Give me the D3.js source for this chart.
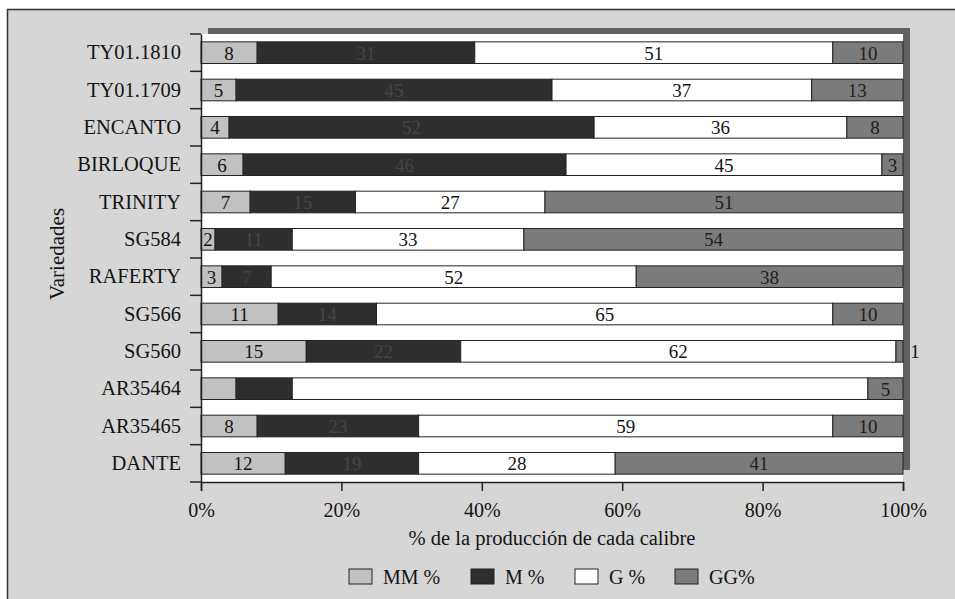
<!DOCTYPE html>
<html>
<head>
<meta charset="utf-8">
<script src="https://cdn.jsdelivr.net/npm/d3@7"></script>
<style>
  body { margin: 0; background: #ffffff; }
  text { font-family: "Liberation Serif", "Times New Roman", serif; }
</style>
</head>
<body>
<div id="vis1"></div>
<script>
// Varieties, top to bottom
const VARIEDADES = ["TY01.1810", "TY01.1709", "ENCANTO", "BIRLOQUE", "TRINITY", "SG584",
                    "RAFERTY", "SG566", "SG560", "AR35464", "AR35465", "DANTE"];

// Series values (% of production by size)
const MM = [8, 5, 4, 6, 7, 2, 3, 11, 15, 5, 8, 12];
const M  = [31, 45, 52, 46, 15, 11, 7, 14, 22, 8, 23, 19];
const G  = [51, 37, 36, 45, 27, 33, 52, 65, 62, 82, 59, 28];
const GG = [10, 13, 8, 3, 51, 54, 38, 10, 1, 5, 10, 41];

const SERIES = ["MM %", "M %", "G %", "GG%"];
const X_TICKS = [0, 20, 40, 60, 80, 100];

// rows whose small segments carry no label in the original
const UNLABELED = {"AR35464": ["MM %", "M %", "G %"]};

const FRAME_WIDTH = 955;
const FRAME_HEIGHT = 599;
const MARGINS = {left: 201, right: 52, top: 34, bottom: 117};
const VIS_WIDTH = FRAME_WIDTH - MARGINS.left - MARGINS.right;
const VIS_HEIGHT = FRAME_HEIGHT - MARGINS.top - MARGINS.bottom;

const COLORS = {"MM %": "#c1c1c1", "M %": "#2e2e2e", "G %": "#ffffff", "GG%": "#7b7b7b"};
const TEXT_COLORS = {"MM %": "#141414", "M %": "#454545", "G %": "#141414", "GG%": "#202020"};

const FRAME1 = d3.select("#vis1")
                 .append("svg")
                 .attr("width", FRAME_WIDTH)
                 .attr("height", FRAME_HEIGHT);

// outer chart area
FRAME1.append("rect")
      .attr("x", 7.5).attr("y", 9.5)
      .attr("width", FRAME_WIDTH).attr("height", FRAME_HEIGHT)
      .attr("fill", "#d6d6d6")
      .attr("stroke", "#333").attr("stroke-width", 1.5);

// build the table for the stack
const table = VARIEDADES.map((v, i) => ({
  name: v, "MM %": MM[i], "M %": M[i], "G %": G[i], "GG%": GG[i]
}));
const stacked = d3.stack().keys(SERIES)(table);

const X_SCALE = d3.scaleLinear().domain([0, 100]).range([0, VIS_WIDTH]);
const Y_SCALE = d3.scaleBand().domain(VARIEDADES).range([0, VIS_HEIGHT]).paddingInner(0.42).paddingOuter(0.21);

const vis = FRAME1.append("g")
                  .attr("transform", "translate(" + MARGINS.left + "," + MARGINS.top + ")");

// plot area shadow + background
vis.append("rect")
   .attr("x", 7).attr("y", -6)
   .attr("width", VIS_WIDTH).attr("height", VIS_HEIGHT - 6)
   .attr("fill", "#626262");
vis.append("rect")
   .attr("x", 0).attr("y", 0)
   .attr("width", VIS_WIDTH).attr("height", VIS_HEIGHT)
   .attr("fill", "#ffffff");

// bars
const layers = vis.selectAll(".layer")
                  .data(stacked)
                  .enter().append("g")
                  .attr("class", "layer");

layers.selectAll("rect")
      .data((d) => d.map((p) => ({key: d.key, p: p})))
      .enter().append("rect")
      .attr("x", (d) => X_SCALE(d.p[0]))
      .attr("y", (d) => Y_SCALE(d.p.data.name))
      .attr("width", (d) => X_SCALE(d.p[1]) - X_SCALE(d.p[0]))
      .attr("height", Y_SCALE.bandwidth())
      .attr("fill", (d) => COLORS[d.key])
      .attr("stroke", "#222")
      .attr("stroke-width", 1);

// data labels
layers.selectAll("text")
      .data((d) => d.map((p) => ({key: d.key, p: p}))
                    .filter((d) => !(UNLABELED[d.p.data.name] || []).includes(d.key)))
      .enter().append("text")
      .attr("x", (d) => {
        const w = d.p[1] - d.p[0];
        return w < 2 ? X_SCALE(d.p[1]) + 12 : X_SCALE((d.p[0] + d.p[1]) / 2);
      })
      .attr("y", (d) => Y_SCALE(d.p.data.name) + Y_SCALE.bandwidth() / 2)
      .attr("dy", "0.36em")
      .attr("text-anchor", "middle")
      .attr("font-size", "19px")
      .attr("fill", (d) => (d.p[1] - d.p[0]) < 2 ? "#141414" : TEXT_COLORS[d.key])
      .text((d) => d.p[1] - d.p[0]);

// Y axis
const yAxis = vis.append("g")
                 .call(d3.axisLeft(Y_SCALE).tickSize(0).tickPadding(20));
yAxis.select(".domain").attr("stroke", "#222").attr("stroke-width", 1.5);
yAxis.selectAll("text").attr("font-size", "20.5px").attr("fill", "#141414");
// ticks between categories
vis.append("g").selectAll("line")
   .data(d3.range(VARIEDADES.length + 1))
   .enter().append("line")
   .attr("x1", -11).attr("x2", 0)
   .attr("y1", (i) => i * Y_SCALE.step())
   .attr("y2", (i) => i * Y_SCALE.step())
   .attr("stroke", "#222").attr("stroke-width", 1.5);

// X axis
const xAxis = vis.append("g")
                 .attr("transform", "translate(0," + VIS_HEIGHT + ")")
                 .call(d3.axisBottom(X_SCALE).tickValues(X_TICKS).tickSize(9).tickPadding(12)
                         .tickFormat((d) => d + "%"));
xAxis.select(".domain").attr("stroke", "#222").attr("stroke-width", 1.5);
xAxis.selectAll("line").attr("stroke", "#222").attr("stroke-width", 1.5);
xAxis.selectAll("text").attr("font-size", "20px").attr("fill", "#141414");

// axis titles
FRAME1.append("text")
      .attr("x", MARGINS.left + VIS_WIDTH / 2)
      .attr("y", 545)
      .attr("text-anchor", "middle")
      .attr("font-size", "20.5px")
      .attr("fill", "#141414")
      .text("% de la producción de cada calibre");

FRAME1.append("text")
      .attr("transform", "translate(64,254) rotate(-90)")
      .attr("text-anchor", "middle")
      .attr("font-size", "21px")
      .attr("fill", "#141414")
      .text("Variedades");

// legend
const LEGEND_X = [349, 471, 575, 675];
const legend = FRAME1.append("g");
SERIES.forEach((s, i) => {
  legend.append("rect")
        .attr("x", LEGEND_X[i]).attr("y", 569)
        .attr("width", 23).attr("height", 15)
        .attr("fill", COLORS[s])
        .attr("stroke", "#222").attr("stroke-width", 1);
  legend.append("text")
        .attr("x", LEGEND_X[i] + 34).attr("y", 577)
        .attr("dy", "0.35em")
        .attr("font-size", "20px")
        .attr("fill", "#141414")
        .text(s);
});
</script>
</body>
</html>
